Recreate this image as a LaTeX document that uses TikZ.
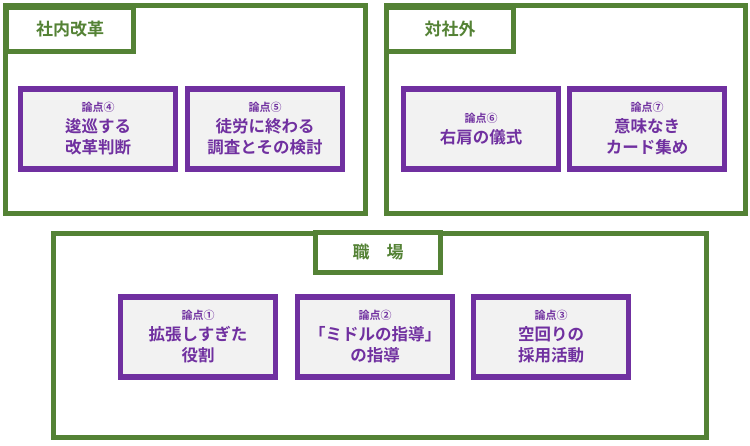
\documentclass[tikz,border=0pt]{standalone}
\usepackage{fontspec}
\setmainfont{Noto Sans CJK JP}[BoldFont={Noto Sans CJK JP Bold}]
\definecolor{grn}{HTML}{548235}
\definecolor{prp}{HTML}{7030A0}
\definecolor{lgr}{HTML}{F2F2F2}
\newcommand{\sm}{\fontsize{11}{13}\selectfont}
\begin{document}
\begin{tikzpicture}[x=1pt,y=-1pt,
  frame/.style={draw=grn,line width=5pt},
  tab/.style={draw=grn,line width=5pt,fill=white,font=\bfseries\fontsize{17}{20}\selectfont,text=grn},
  pt/.style={draw=prp,line width=5.5pt,fill=lgr,align=center,text=prp,font=\bfseries\fontsize{16.5}{21}\selectfont,minimum width=155,minimum height=80}]
\useasboundingbox (0,0) rectangle (750,445);
\draw[frame] (5.5,5.5) rectangle (365,213) coordinate (f1);
\draw[frame] (386,5.5) rectangle (745,213) coordinate (f2);
\draw[frame] (53,233) rectangle (706,437) coordinate (f3);
\node[tab,minimum width=127,minimum height=44] (t1) at (70,29) {社内改革};
\node[tab,minimum width=127,minimum height=44] (t2) at (450,29) {対社外};
\node[tab,minimum width=125,minimum height=40] (t3) at (378,252) {職\hspace{1em}場};
\node[pt] (p4) at (98,129) {{\sm 論点④}\\逡巡する\\改革判断};
\node[pt] (p5) at (265,129) {{\sm 論点⑤}\\徒労に終わる\\調査とその検討};
\node[pt] (p6) at (481,129) {{\sm 論点⑥}\\右肩の儀式};
\node[pt] (p7) at (647,129) {{\sm 論点⑦}\\意味なき\\カード集め};
\node[pt] (p1) at (198,337) {{\sm 論点①}\\拡張しすぎた\\役割};
\node[pt] (p2) at (375,337) {{\sm 論点②}\\「ミドルの指導」\\の指導};
\node[pt] (p3) at (551,337) {{\sm 論点③}\\空回りの\\採用活動};
\end{tikzpicture}
\end{document}
